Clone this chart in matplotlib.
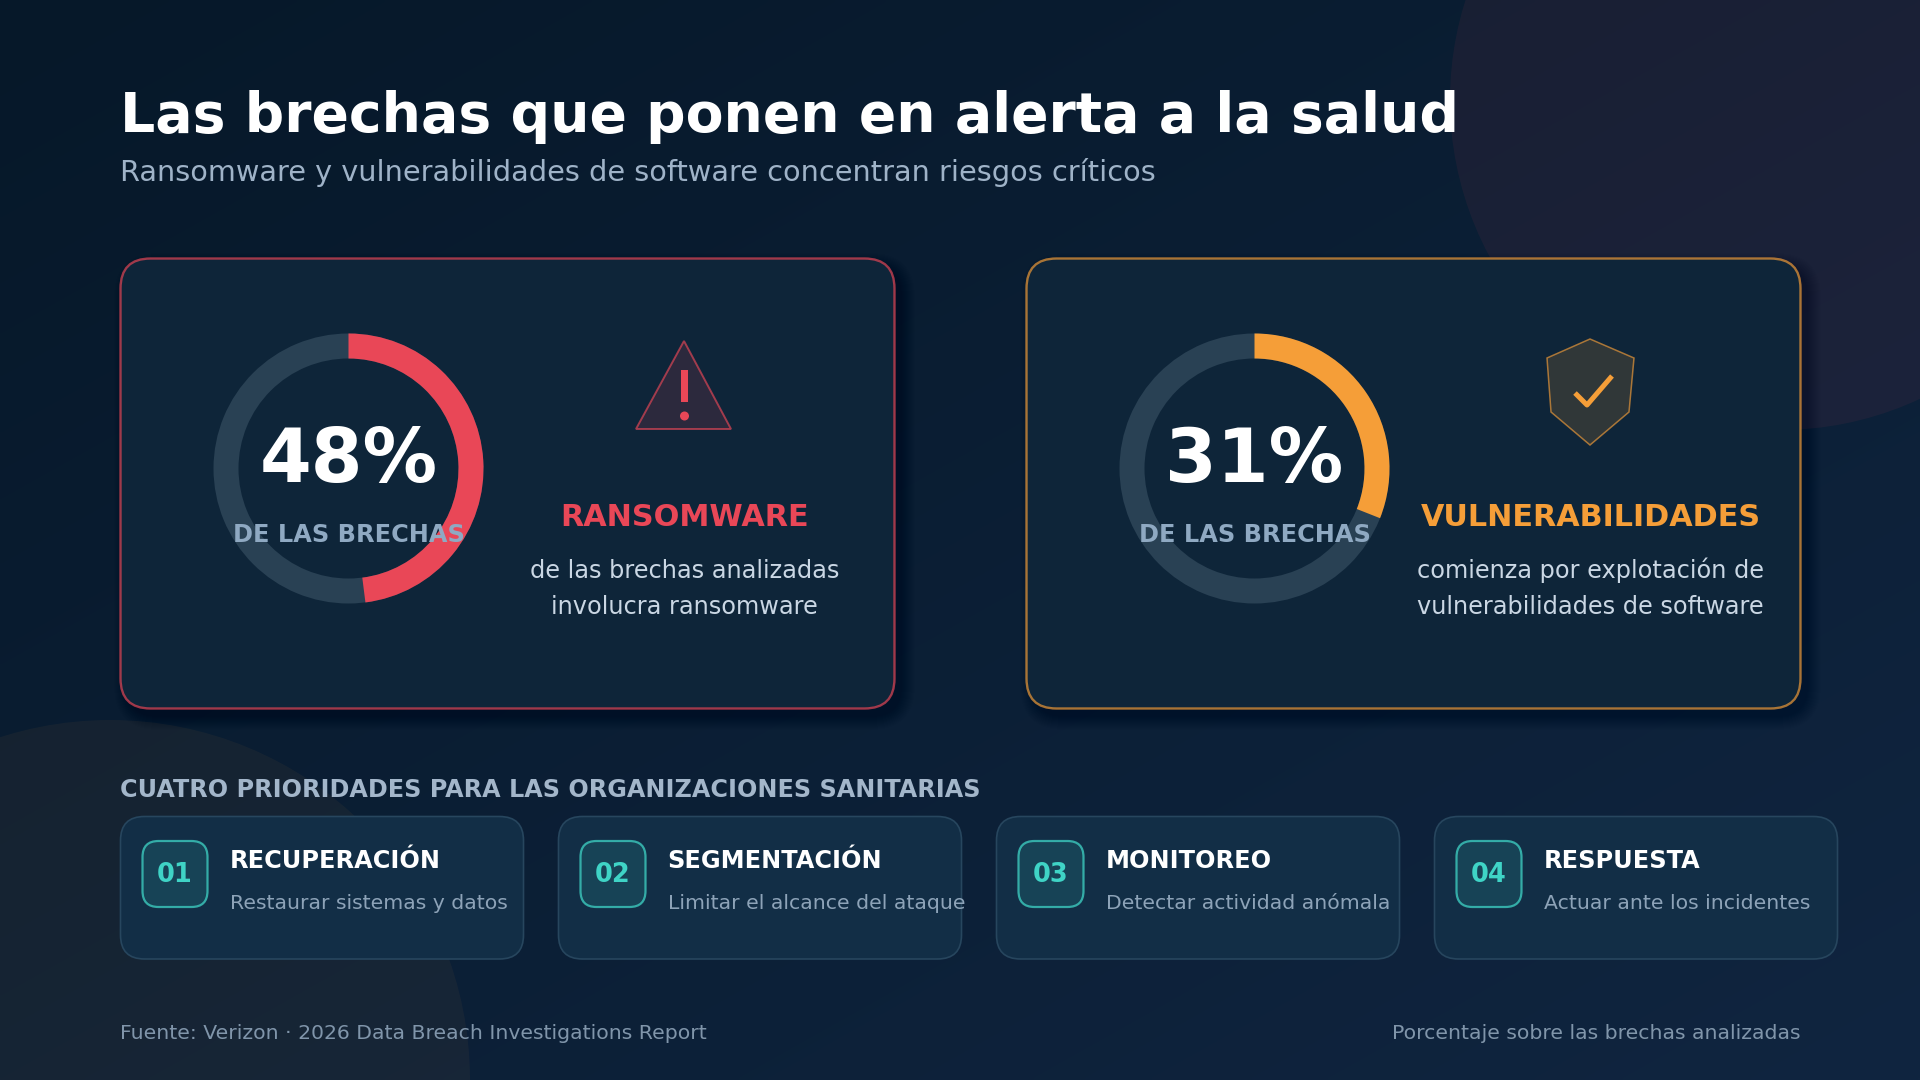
import numpy as np
import matplotlib
matplotlib.use("Agg")
import matplotlib.pyplot as plt
from matplotlib.colors import to_rgba
from matplotlib.patches import Wedge, Circle, FancyBboxPatch, Polygon, Rectangle

# ---- content ----
title = "Las brechas que ponen en alerta a la salud"
subtitle = "Ransomware y vulnerabilidades de software concentran riesgos críticos"
stat_values = [48, 31]
stat_names = ["RANSOMWARE", "VULNERABILIDADES"]
stat_desc = [["de las brechas analizadas", "involucra ransomware"],
             ["comienza por explotación de", "vulnerabilidades de software"]]
stat_unit = "DE LAS BRECHAS"
section = "CUATRO PRIORIDADES PARA LAS ORGANIZACIONES SANITARIAS"
prio_num = ["01", "02", "03", "04"]
prio_name = ["RECUPERACIÓN", "SEGMENTACIÓN", "MONITOREO", "RESPUESTA"]
prio_desc = ["Restaurar sistemas y datos", "Limitar el alcance del ataque",
             "Detectar actividad anómala", "Actuar ante los incidentes"]
source = "Fuente: Verizon · 2026 Data Breach Investigations Report"
note = "Porcentaje sobre las brechas analizadas"

RED, ORANGE, TEAL = "#E94757", "#F59E38", "#3FD4C6"
px = 0.72  # px to pt at dpi 100

fig = plt.figure(figsize=(19.2, 10.8), dpi=100)
ax = fig.add_axes([0, 0, 1, 1])
ax.axis("off")

# background gradient
yy, xx = np.mgrid[0:1080:270j, 0:1920:480j]
t = (xx / 1920 * 0.5 + yy / 1080 * 0.5)[..., None]
c0 = np.array([0x06, 0x18, 0x29]) / 255
c1 = np.array([0x10, 0x25, 0x40]) / 255
ax.imshow(c0 + (c1 - c0) * np.clip(t, 0, 1), extent=(0, 1920, 1080, 0),
          aspect="auto", zorder=0, interpolation="bilinear")
ax.set_xlim(0, 1920)
ax.set_ylim(1080, 0)

ax.add_patch(Circle((1780, 100), 330, fc=RED, alpha=0.07, ec="none", zorder=1))
ax.add_patch(Circle((110, 1080), 360, fc=ORANGE, alpha=0.05, ec="none", zorder=1))


def rbox(x0, y0, w, h, r, **kw):
    p = FancyBboxPatch((x0 + r, y0 + r), w - 2 * r, h - 2 * r,
                       boxstyle=f"round,pad={r},rounding_size={r}", **kw)
    ax.add_patch(p)
    return p


def label(x, y, s, size, color, weight="normal", ha="left", z=8):
    ax.text(x, y, s, fontsize=size * px, color=color, fontweight=weight, ha=ha,
            va="baseline", family="DejaVu Sans", zorder=z)


label(120, 131.5, title, 55.2, "#FFFFFF", "bold")
label(120, 181, subtitle, 28.76, "#9FB3C8")

# stat cards
for i, (val, col) in enumerate(zip(stat_values, [RED, ORANGE])):
    x0 = 120.5 + i * 906
    for k in range(14):
        rbox(x0 + 7 - k, 258.5 + 8 - k, 774 + 2 * k, 450 + 2 * k, 30 + k, fc="#000000",
             alpha=0.011, ec="none", zorder=2)
    rbox(x0, 258.5, 774, 450, 30, fc="#0E2539", ec=to_rgba(col, 0.68), lw=1.7, zorder=3)
    cx, cy = x0 + 228, 468.5
    ax.add_patch(Wedge((cx, cy), 135, 0, 360, width=25, fc="#294154", ec="none", zorder=4))
    ax.add_patch(Wedge((cx, cy), 135, -90, -90 + val * 3.6, width=25, fc=col, ec="none", zorder=5))
    label(cx, 482, f"{val}%", 74.5, "#FFFFFF", "bold", "center")
    label(cx, 542, stat_unit, 24, "#8FA9C2", "bold", "center")
    tx = x0 + 564
    label(tx, 526, stat_names[i], 30.2, col, "bold", "center")
    label(tx, 578, stat_desc[i][0], 24, "#CAD7E4", "normal", "center")
    label(tx, 614, stat_desc[i][1], 24, "#CAD7E4", "normal", "center")

# warning icon
ax.add_patch(Polygon([(684, 341), (731, 429), (636, 429)], closed=True,
                     fc=to_rgba(RED, 0.14), ec=to_rgba(RED, 0.65), lw=1.4, zorder=6))
ax.add_patch(Rectangle((681, 370), 7, 32, fc=RED, ec="none", zorder=7))
ax.add_patch(Circle((684.5, 416), 4.5, fc=RED, ec="none", zorder=7))

# shield icon
ax.add_patch(Polygon([(1590, 339), (1634, 358), (1629, 412), (1590, 445), (1551, 412), (1547, 358)],
                     closed=True, fc=to_rgba(ORANGE, 0.15), ec=to_rgba(ORANGE, 0.65),
                     lw=1.1, zorder=6))
ax.plot([1575, 1587, 1612], [393, 405, 376], color=ORANGE, lw=3.6, solid_capstyle="butt",
        solid_joinstyle="round", zorder=7)

label(120, 797, section, 23.87, "#A3B6CA", "bold")

# priority cards
for i in range(4):
    x0 = 120.5 + i * 438
    rbox(x0, 816.5, 403, 142.5, 24, fc="#122E46", ec="#27465E", lw=1.2, zorder=3)
    rbox(x0 + 22, 841, 65, 66, 16, fc=to_rgba(TEAL, 0.13), ec=to_rgba(TEAL, 0.75), lw=1.6, zorder=4)
    label(x0 + 54, 882, prio_num[i], 25.6, TEAL, "bold", "center")
    label(x0 + 109, 868.5, prio_name[i], 23.95, "#FFFFFF", "bold")
    label(x0 + 109, 909, prio_desc[i], 20.42, "#8DA3B8")

label(120, 1039, source, 20.42, "#8095AA")
label(1800, 1039, note, 20.42, "#8095AA", ha="right")

fig.savefig("out.png", dpi=100, facecolor="#0A1E33")
